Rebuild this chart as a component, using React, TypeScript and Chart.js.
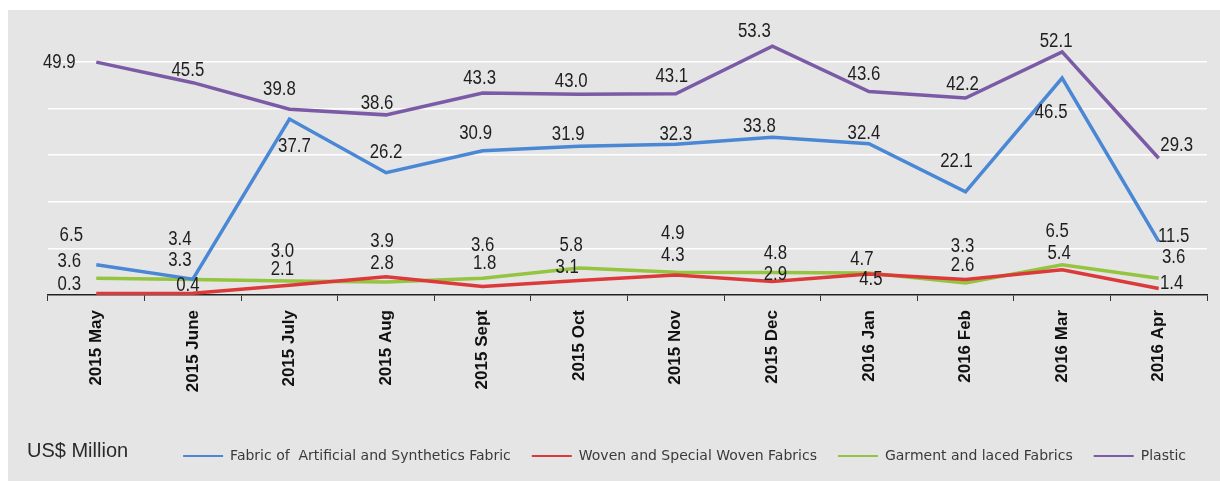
import React, { useEffect, useRef } from "react";
import { Chart, registerables } from "chart.js";

Chart.register(...registerables);

// ---- data ----
const categories = [
  "2015 May", "2015 June", "2015 July", "2015 Aug", "2015 Sept", "2015 Oct",
  "2015 Nov", "2015 Dec", "2016 Jan", "2016 Feb", "2016 Mar", "2016 Apr",
];
const fabricValues = [6.5, 3.4, 37.7, 26.2, 30.9, 31.9, 32.3, 33.8, 32.4, 22.1, 46.5, 11.5];
const wovenValues = [0.3, 0.4, 2.1, 3.9, 1.8, 3.1, 4.3, 2.9, 4.5, 3.3, 5.4, 1.4];
const garmentValues = [3.6, 3.3, 3.0, 2.8, 3.6, 5.8, 4.9, 4.8, 4.7, 2.6, 6.5, 3.6];
const plasticValues = [49.9, 45.5, 39.8, 38.6, 43.3, 43.0, 43.1, 53.3, 43.6, 42.2, 52.1, 29.3];
const seriesNames = [
  "Fabric of  Artificial and Synthetics Fabric",
  "Woven and Special Woven Fabrics",
  "Garment and laced Fabrics",
  "Plastic",
];
const unitLabel = "US$ Million";
const yMin = 0;
const yMax = 60;
const yStep = 10;

// ---- styles ----
const colors = ["#4a88d6", "#dc3a3a", "#94c440", "#7b5aa6"];
// value-label offsets (px) relative to each point, per series
const fabricLabelOffsets = [[-25, -29], [-13, -40], [5, 27], [0, -20], [-7, -17], [-11, -12], [0, -10], [-13, -11], [-5, -10], [-9, -30], [-11, 34], [15, -5]];
const wovenLabelOffsets = [[-27, -9], [-5, -8], [-7, -16], [-4, -35], [2, -23], [-12, -13], [-3, -19], [3, -7], [2, 5], [-3, -33], [-3, -16], [13, -5]];
const garmentLabelOffsets = [[-27, -17], [-13, -19], [-7, -30], [-4, -18], [0, -33], [-8, -22], [-3, -39], [3, -19], [-7, -14], [-3, -17], [-5, -33], [15, -21]];
const plasticLabelOffsets = [[-37, 0], [-5, -12], [-10, -20], [-9, -11], [-3, -14], [-8, -13], [-4, -17], [-18, -15], [-5, -17], [-3, -14], [-6, -10], [18, -13]];
const labelOffsets = [fabricLabelOffsets, wovenLabelOffsets, garmentLabelOffsets, plasticLabelOffsets];

const SANS = "'Liberation Sans', Arial, sans-serif";

const valueLabelPlugin = {
  id: "valueLabels",
  afterDatasetsDraw(chart: any) {
    const ctx = chart.ctx;
    chart.data.datasets.forEach((ds: any, i: number) => {
      const meta = chart.getDatasetMeta(i);
      meta.data.forEach((pt: any, j: number) => {
        const off = labelOffsets[i][j];
        ctx.save();
        ctx.font = `20px ${SANS}`;
        ctx.fillStyle = "#1e1e1e";
        ctx.textAlign = "center";
        ctx.textBaseline = "middle";
        ctx.translate(pt.x + off[0], pt.y + off[1]);
        ctx.scale(0.84, 1);
        ctx.fillText(Number(ds.data[j]).toFixed(1), 0, 0);
        ctx.restore();
      });
    });
  },
};

const unitPlugin = {
  id: "unitLabel",
  afterDraw(chart: any) {
    const ctx = chart.ctx;
    const lg = chart.legend;
    if (!lg) return;
    ctx.save();
    ctx.font = `20px ${SANS}`;
    ctx.fillStyle = "#2a2a2a";
    ctx.textAlign = "left";
    ctx.textBaseline = "middle";
    ctx.fillText(unitLabel, 19, lg.top + 23);
    ctx.restore();
  },
};

export default function App() {
  const ref = useRef<HTMLCanvasElement | null>(null);

  useEffect(() => {
    if (!ref.current) return;
    const seriesValues = [fabricValues, wovenValues, garmentValues, plasticValues];
    const chart = new Chart(ref.current, {
      type: "line",
      data: {
        labels: categories,
        datasets: seriesValues.map((vals, i) => ({
          label: seriesNames[i],
          data: vals,
          borderColor: colors[i],
          backgroundColor: colors[i],
          borderWidth: 3.5,
          pointRadius: 0,
          tension: 0,
          fill: false,
        })),
      },
      options: {
        animation: false,
        responsive: true,
        maintainAspectRatio: false,
        layout: { padding: { left: 40, right: 13, top: 5, bottom: 8 } },
        scales: {
          x: {
            type: "category",
            offset: true,
            grid: {
              offset: true,
              drawOnChartArea: false,
              drawTicks: true,
              tickLength: 6,
              color: "#333333",
              lineWidth: 1,
            },
            border: { display: true, color: "#222222", width: 1.5 },
            ticks: {
              autoSkip: false,
              maxRotation: 90,
              minRotation: 90,
              padding: 9,
              color: "#111111",
              font: { family: SANS, size: 17, weight: "bold" },
            },
            afterFit: (s: any) => {
              s.height = 133;
            },
          },
          y: {
            min: yMin,
            max: yMax,
            ticks: { stepSize: yStep, display: false },
            grid: {
              drawTicks: false,
              lineWidth: 1.5,
              color: (c: any) =>
                c.tick && (c.tick.value === yMin || c.tick.value === yMax) ? "rgba(0,0,0,0)" : "#ffffff",
            },
            border: { display: false },
            afterFit: (s: any) => {
              s.width = 0;
            },
          },
        },
        plugins: {
          legend: {
            position: "bottom",
            align: "end",
            labels: {
              usePointStyle: true,
              pointStyle: "line",
              pointStyleWidth: 40,
              padding: 21,
              color: "#3a3a3a",
              font: { family: "'DejaVu Sans', sans-serif", size: 14 },
              generateLabels: (ch: any) =>
                Chart.defaults.plugins.legend.labels
                  .generateLabels(ch)
                  .map((l: any) => ({ ...l, lineWidth: 2 })),
            },
          },
          tooltip: { enabled: false },
        },
      },
      plugins: [valueLabelPlugin, unitPlugin],
    });
    return () => chart.destroy();
  }, []);

  return (
    <div
      style={{
        position: "fixed",
        left: 8,
        top: 10,
        width: 1212,
        height: 471,
        background: "#e5e5e5",
      }}
    >
      <canvas ref={ref} />
    </div>
  );
}
